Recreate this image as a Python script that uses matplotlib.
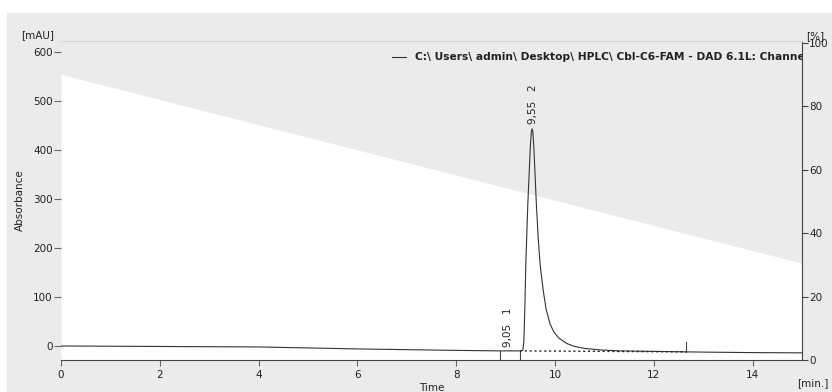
import matplotlib
matplotlib.use("Agg")
import matplotlib.pyplot as plt
from matplotlib.patches import Rectangle

# chromatogram (time in min, absorbance in mAU)
time_min = [0.0, 1.0, 2.0, 3.0, 4.0, 5.0, 6.0, 7.0, 8.0, 8.9, 9.30, 9.33, 9.35,
            9.37, 9.39, 9.41, 9.43, 9.45, 9.48, 9.50, 9.52, 9.535, 9.55, 9.57,
            9.59, 9.62, 9.66, 9.70, 9.76, 9.82, 9.90, 9.98, 10.08, 10.24, 10.4,
            10.6, 10.9, 11.3, 12.0, 12.65, 13.0, 14.0, 15.0]
absorb_mau = [0, -0.5, -1, -1.5, -2, -4, -6, -7.5, -9, -10, -10, -9.5, -8,
              10, 80, 170, 230, 290, 359, 405, 435, 443, 438, 410,
              365, 295, 220, 165, 114, 75, 45, 28, 16, 5, -1,
              -5, -8, -10, -11, -12, -12.5, -13.5, -14]

# gradient (%)
grad_time = [0, 15]
grad_pct = [90, 30.5]

# peaks
peak_rt = [9.05, 9.55]
peak_h = [-10, 445]
peak_num = ["1", "2"]
peak_lbl = ["9,05", "9,55"]

# integration baseline / markers
base_t = [9.29, 12.65]
base_v = [-10, -12]
marks_down = [8.89, 9.29]
mark_up = 12.65

BG = "#ebebeb"
INK = "#222222"
plt.rcParams["font.family"] = "DejaVu Sans"
plt.rcParams["font.size"] = 7.5

fig = plt.figure(figsize=(8.32, 3.92), dpi=100)
fig.patch.set_facecolor("white")
fig.add_artist(Rectangle((7 / 832, 0), 1, 1 - 13 / 392, transform=fig.transFigure,
                         facecolor=BG, edgecolor="none", zorder=0))

ax2 = fig.add_axes([61 / 832, 1 - 360 / 392, 741 / 832, 319 / 392])
ax = ax2.twinx()
# mAU axis on the left, % axis on the right, chromatogram on top
ax.yaxis.tick_left()
ax.yaxis.set_label_position("left")
ax2.yaxis.tick_right()
ax2.yaxis.set_label_position("right")
ax.set_zorder(ax2.get_zorder() + 1)
ax.patch.set_visible(False)

ax2.set_facecolor(BG)
ax2.fill_between(grad_time, 0, grad_pct, color="white", lw=0)
ax2.set_xlim(0, 15)
ax2.set_ylim(0, 100.5)
ax2.set_yticks(range(0, 101, 20))

ax.plot(time_min, absorb_mau, color="#333333", lw=0.8)
ax.plot(base_t, base_v, color="#222222", lw=1, ls=(0, (1.5, 2)))
for t in marks_down:
    ax.plot([t, t], [-10, -28.6], color="#444444", lw=0.8)
ax.plot([mark_up, mark_up], [-12, 8], color="#444444", lw=0.8)
for t, h, lb, n in zip(peak_rt, peak_h, peak_lbl, peak_num):
    ax.text(t, h + 8, lb + "   " + n, rotation=90, ha="center", va="bottom",
            fontsize=7.5, color=INK)

ax.set_xlim(0, 15)
ax.set_ylim(-28.6, 622)
ax.set_yticks(range(0, 601, 100))
ax.set_xticks(range(0, 15, 2))

for a in (ax, ax2):
    for s in a.spines.values():
        s.set_visible(False)
ax2.spines["bottom"].set_visible(True)
ax2.spines["bottom"].set_color("#444444")
ax2.spines["right"].set_visible(True)
ax2.spines["right"].set_color("#444444")
ax2.spines["top"].set_visible(True)
ax2.spines["top"].set_color("#d4d4d4")

ax.tick_params(axis="y", length=5, width=0.8, color="#666666", labelcolor=INK, pad=1)
ax.tick_params(axis="x", bottom=False, labelbottom=False)
ax2.tick_params(axis="x", length=4, width=0.8, color="#666666", labelcolor=INK, pad=3)
ax2.tick_params(axis="y", length=4, width=0.8, color="#444444", labelcolor=INK, pad=1)

# legend entry clipped by the right axis
ax.plot([0.4467, 0.4656], [0.95, 0.95], transform=ax.transAxes, color="#333333", lw=0.8)
ax.text(0.4777, 0.95, r"C:\ Users\ admin\ Desktop\ HPLC\ Cbl-C6-FAM - DAD 6.1L: Channel 1",
        transform=ax.transAxes, ha="left", va="center", fontsize=7.7,
        fontweight="bold", color=INK, clip_on=True)

fig.text(38 / 832, 1 - 35 / 392, "[mAU]", ha="center", va="center", color=INK)
fig.text(20 / 832, 1 - 200 / 392, "Absorbance", rotation=90, ha="center", va="center", color=INK)
fig.text(432 / 832, 1 - 388 / 392, "Time", ha="center", va="center", color=INK)
fig.text(829 / 832, 1 - 383 / 392, "[min.]", ha="right", va="center", color=INK)
fig.text(815 / 832, 1 - 36 / 392, "[%]", ha="center", va="center", color=INK)
fig.text(829 / 832, 1 - 215 / 392, "Gradient", rotation=270, ha="left", va="center", color=INK)

fig.savefig("out.png", dpi=100, facecolor="white")
